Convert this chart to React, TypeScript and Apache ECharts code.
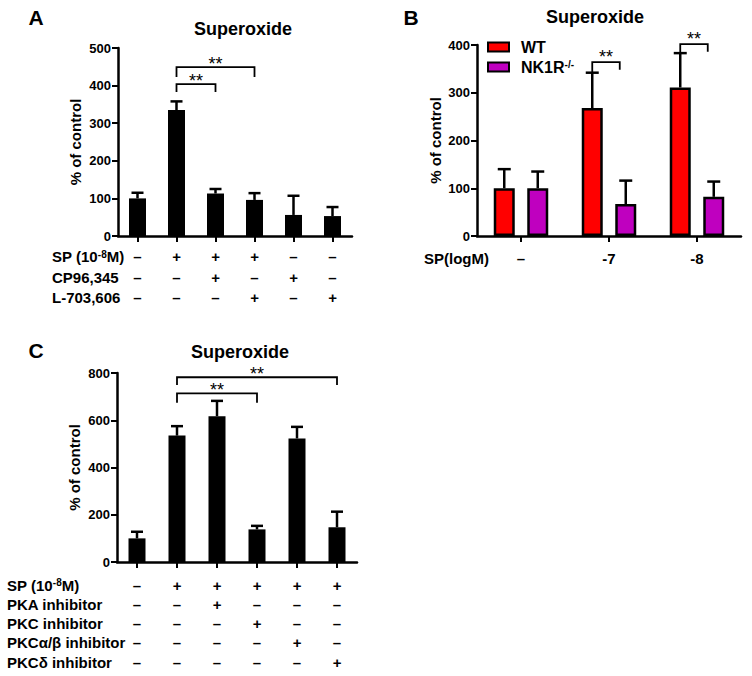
import React, { useEffect, useRef } from "react";
import * as echarts from "echarts";

// ---------- Panel A ----------
const catsA = ["1", "2", "3", "4", "5", "6"];
const meanA = [100, 335, 113, 96, 56, 53];
const semA = [15, 23, 12, 18, 51, 24];
const spRowA = ["–", "+", "+", "+", "–", "–"];
const cpRowA = ["–", "–", "+", "–", "+", "–"];
const lRowA = ["–", "–", "–", "+", "–", "+"];
const rowNamesA = ["SP (10-8M)", "CP96,345", "L-703,606"];
// [fromIndex, toIndex, top, leftLegBottom, rightLegBottom]
const bracketsA = [
  [1, 2, 404, 383, 383],
  [1, 3, 449, 423, 423],
];

// ---------- Panel B ----------
const catsB = ["–", "-7", "-8"];
const wtB = [100, 268, 311];
const semWtB = [40, 74, 72];
const nkB = [100, 67, 82];
const semNkB = [35, 49, 32];
// [categoryIndex, top, leftLegBottom, rightLegBottom]
const bracketsB = [
  [1, 364, 342, 348],
  [2, 402, 383, 386],
];

// ---------- Panel C ----------
const catsC = ["1", "2", "3", "4", "5", "6"];
const meanC = [100, 535, 617, 138, 523, 147];
const semC = [28, 40, 65, 15, 49, 66];
const spRowC = ["–", "+", "+", "+", "+", "+"];
const pkaRowC = ["–", "–", "+", "–", "–", "–"];
const pkcRowC = ["–", "–", "–", "+", "–", "–"];
const pkcabRowC = ["–", "–", "–", "–", "+", "–"];
const pkcdRowC = ["–", "–", "–", "–", "–", "+"];
const rowNamesC = ["SP (10-8M)", "PKA inhibitor", "PKC inhibitor", "PKCα/β inhibitor", "PKCδ inhibitor"];
const bracketsC = [
  [1, 3, 714, 674, 674],
  [1, 5, 782, 749, 749],
];

const FF = "'Liberation Sans', Arial, Helvetica, sans-serif";
const BLACK = "#000";
const STAR_SIZE = 18;

function errRender(offset: number, cap: number, lw: number) {
  return (params: any, api: any) => {
    const base = api.coord([api.value(0), api.value(1)]);
    const top = api.coord([api.value(0), api.value(1) + api.value(2)]);
    const x = base[0] + offset;
    return {
      type: "group",
      children: [
        { type: "line", shape: { x1: x, y1: base[1], x2: x, y2: top[1] }, style: { stroke: BLACK, lineWidth: lw } },
        { type: "line", shape: { x1: x - cap / 2, y1: top[1], x2: x + cap / 2, y2: top[1] }, style: { stroke: BLACK, lineWidth: lw } },
      ],
    };
  };
}

function bracketRender(starOff: number) {
  return (params: any, api: any) => {
    const a = api.coord([api.value(0), api.value(2)]);
    const b = api.coord([api.value(1), api.value(2)]);
    const l = api.coord([api.value(0), api.value(3)]);
    const r = api.coord([api.value(1), api.value(4)]);
    return {
      type: "group",
      children: [
        {
          type: "polyline",
          shape: { points: [[l[0], l[1]], [a[0], a[1]], [b[0], b[1]], [r[0], r[1]]] },
          style: { stroke: BLACK, lineWidth: 1.8, fill: "none" },
        },
        {
          type: "text",
          x: (a[0] + b[0]) / 2,
          y: a[1] - starOff,
          style: { text: "**", align: "center", verticalAlign: "middle", fontSize: STAR_SIZE, fontFamily: FF, fill: BLACK },
        },
      ],
    };
  };
}

const BW_B = 21;
const GAP_B = 12.5;
const OFF_B = (BW_B + GAP_B) / 2;

function bracketRenderB(params: any, api: any) {
  const a = api.coord([api.value(0), api.value(1)]);
  const l = api.coord([api.value(0), api.value(2)]);
  const r = api.coord([api.value(0), api.value(3)]);
  const x1 = a[0] - OFF_B;
  const x2 = a[0] + OFF_B - 6;
  return {
    type: "group",
    children: [
      {
        type: "polyline",
        shape: { points: [[x1, l[1]], [x1, a[1]], [x2, a[1]], [x2, r[1]]] },
        style: { stroke: BLACK, lineWidth: 1.8, fill: "none" },
      },
      {
        type: "text",
        x: (x1 + x2) / 2,
        y: a[1] - 5,
        style: { text: "**", align: "center", verticalAlign: "middle", fontSize: STAR_SIZE, fontFamily: FF, fill: BLACK },
      },
    ],
  };
}

const axisLineStyle = { color: BLACK, width: 2.5 };

function yAxis(gridIndex: number, max: number, interval: number, nameGap: number) {
  return {
    type: "value",
    gridIndex,
    min: 0,
    max,
    interval,
    name: "% of control",
    nameLocation: "middle",
    nameGap,
    nameTextStyle: { fontSize: 15, fontWeight: "bold", fontFamily: FF, color: BLACK },
    axisLine: { show: true, lineStyle: axisLineStyle },
    axisTick: { show: true, length: 6, lineStyle: { color: BLACK, width: 2 } },
    splitLine: { show: false },
    axisLabel: { fontSize: 13, fontWeight: "bold", fontFamily: FF, color: BLACK, margin: 7 },
  };
}

function xAxis(gridIndex: number, data: string[], margin: number, lineHeight: number, formatter: any) {
  return {
    type: "category",
    gridIndex,
    data,
    axisLine: { show: true, lineStyle: axisLineStyle },
    axisTick: { show: true, alignWithLabel: true, length: 6, lineStyle: { color: BLACK, width: 2 } },
    splitLine: { show: false },
    axisLabel: {
      interval: 0,
      margin,
      lineHeight,
      fontSize: 15,
      fontWeight: "bold",
      fontFamily: FF,
      color: BLACK,
      formatter,
    },
  };
}

function rowText(x: number, y: number, text: string) {
  const isSP = text.startsWith("SP (10");
  return {
    type: "text",
    x,
    y,
    style: isSP
      ? {
          text: "{a|SP (10}{s|-8}{a|M)}",
          rich: {
            a: { fontSize: 15, fontWeight: "bold", fontFamily: FF, fill: BLACK },
            s: { fontSize: 10, fontWeight: "bold", fontFamily: FF, fill: BLACK, verticalAlign: "top" },
          },
          align: "left",
          verticalAlign: "middle",
        }
      : { text, fontSize: 15, fontWeight: "bold", fontFamily: FF, fill: BLACK, align: "left", verticalAlign: "middle" },
  };
}

function bigText(x: number, y: number, text: string, size: number, align = "center") {
  return {
    type: "text",
    x,
    y,
    style: { text, fontSize: size, fontWeight: "bold", fontFamily: FF, fill: BLACK, align, verticalAlign: "middle" },
  };
}

export default function App() {
  const ref = useRef<HTMLDivElement>(null);
  useEffect(() => {
    if (!ref.current) return;
    const chart = echarts.init(ref.current, null, { renderer: "svg" });
    const lhA = 20.5;
    const lhC = 19.25;
    const option: any = {
      animation: false,
      backgroundColor: "#fff",
      textStyle: { fontFamily: FF },
      grid: [
        { left: 118, top: 48, width: 234, height: 188 },
        { left: 477, top: 45, width: 264, height: 191 },
        { left: 117, top: 373, width: 240, height: 189 },
      ],
      legend: {
        data: ["WT", "NK1R-/-"],
        left: 487,
        top: 39,
        padding: 0,
        orient: "vertical",
        icon: "rect",
        itemWidth: 21,
        itemHeight: 9,
        itemGap: 4,
        itemStyle: { borderColor: BLACK, borderWidth: 2 },
        formatter: (n: string) => (n === "WT" ? "{b|WT}" : "{b|NK1R}{s|-/-}"),
        textStyle: {
          color: BLACK,
          rich: {
            b: { fontSize: 16, fontWeight: "bold", fontFamily: FF, color: BLACK, padding: [0, 0, 0, 7] },
            s: { fontSize: 10, fontWeight: "bold", fontFamily: FF, color: BLACK, verticalAlign: "top" },
          },
        },
      },
      xAxis: [
        xAxis(0, catsA, 10.4, lhA, (v: string, i: number) => [spRowA[i], cpRowA[i], lRowA[i]].join("\n")),
        xAxis(1, catsB, 13, 18, (v: string) => v),
        xAxis(2, catsC, 13.4, lhC, (v: string, i: number) =>
          [spRowC[i], pkaRowC[i], pkcRowC[i], pkcabRowC[i], pkcdRowC[i]].join("\n")
        ),
      ],
      yAxis: [yAxis(0, 500, 100, 35), yAxis(1, 400, 100, 34), yAxis(2, 800, 200, 35)],
      series: [
        // Panel A
        { type: "bar", xAxisIndex: 0, yAxisIndex: 0, data: meanA, barWidth: 17, itemStyle: { color: BLACK } },
        {
          type: "custom",
          xAxisIndex: 0,
          yAxisIndex: 0,
          renderItem: errRender(0, 12, 2.5),
          data: meanA.map((m, i) => [i, m, semA[i]]),
          z: 3,
        },
        {
          type: "custom",
          xAxisIndex: 0,
          yAxisIndex: 0,
          renderItem: bracketRender(3),
          encode: { x: 0, y: 2 },
          data: bracketsA,
          clip: false,
        },
        // Panel B
        {
          name: "WT",
          type: "bar",
          xAxisIndex: 1,
          yAxisIndex: 1,
          data: wtB,
          barWidth: BW_B,
          barGap: (GAP_B / BW_B) * 100 + "%",
          itemStyle: { color: "#ff0000", borderColor: BLACK, borderWidth: 2.5 },
        },
        {
          name: "NK1R-/-",
          type: "bar",
          xAxisIndex: 1,
          yAxisIndex: 1,
          data: nkB,
          barWidth: BW_B,
          barGap: (GAP_B / BW_B) * 100 + "%",
          itemStyle: { color: "#bf00bf", borderColor: BLACK, borderWidth: 2.5 },
        },
        {
          type: "custom",
          xAxisIndex: 1,
          yAxisIndex: 1,
          renderItem: errRender(-OFF_B, 13, 2.5),
          data: wtB.map((m, i) => [i, m, semWtB[i]]),
          z: 3,
        },
        {
          type: "custom",
          xAxisIndex: 1,
          yAxisIndex: 1,
          renderItem: errRender(OFF_B, 13, 2.5),
          data: nkB.map((m, i) => [i, m, semNkB[i]]),
          z: 3,
        },
        {
          type: "custom",
          xAxisIndex: 1,
          yAxisIndex: 1,
          renderItem: bracketRenderB,
          encode: { x: 0, y: 1 },
          data: bracketsB,
          clip: false,
        },
        // Panel C
        { type: "bar", xAxisIndex: 2, yAxisIndex: 2, data: meanC, barWidth: 17, itemStyle: { color: BLACK } },
        {
          type: "custom",
          xAxisIndex: 2,
          yAxisIndex: 2,
          renderItem: errRender(0, 12, 2.5),
          data: meanC.map((m, i) => [i, m, semC[i]]),
          z: 3,
        },
        {
          type: "custom",
          xAxisIndex: 2,
          yAxisIndex: 2,
          renderItem: bracketRender(3),
          encode: { x: 0, y: 2 },
          data: bracketsC,
          clip: false,
        },
      ],
      graphic: [
        bigText(36, 17.5, "A", 21),
        bigText(411, 17.5, "B", 21),
        bigText(36, 350, "C", 21),
        bigText(243, 29, "Superoxide", 18),
        bigText(595, 16.5, "Superoxide", 18),
        bigText(240, 351.5, "Superoxide", 18),
        ...rowNamesA.map((n, i) => rowText(52, 236 + 10.4 + lhA / 2 + i * lhA, n)),
        ...rowNamesC.map((n, i) => rowText(7, 562 + 13.4 + lhC / 2 + i * lhC, n)),
        rowText(424, 258, "SP(logM)"),
      ],
    };
    chart.setOption(option);
    return () => chart.dispose();
  }, []);
  return (
    <div
      ref={ref}
      style={{ position: "fixed", left: 0, top: 0, width: 752, height: 676, background: "#fff" }}
    />
  );
}
